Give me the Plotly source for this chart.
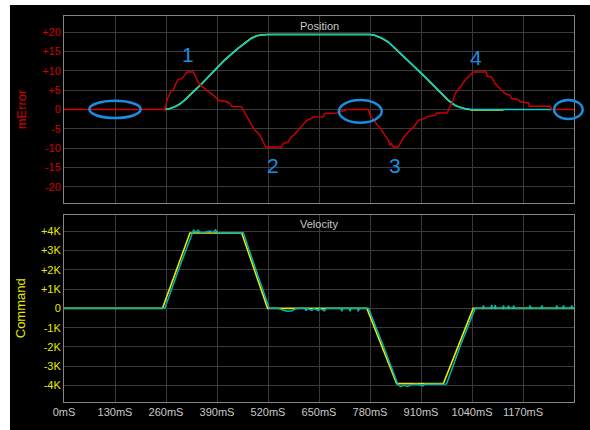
import plotly.graph_objects as go
from plotly.subplots import make_subplots

# ---------------- data ----------------
# time axis (ms)
x_tickvals = [0, 130, 260, 390, 520, 650, 780, 910, 1040, 1170, 1300]
x_ticktext = ["0mS", "130mS", "260mS", "390mS", "520mS", "650mS",
              "780mS", "910mS", "1040mS", "1170mS", ""]

# following error (counts)
err_t = [0, 257, 264, 268, 273, 279, 283, 291, 300, 308,
         313, 330, 334, 342, 351, 359, 368, 376, 385, 393,
         415, 423, 427, 453, 457, 466, 474, 483, 487, 500,
         508, 514, 555, 559, 572, 576, 585, 593, 602, 610,
         619, 631, 636, 661, 665, 695, 716, 721, 776, 780,
         793, 801, 810, 818, 827, 831, 835, 839, 852, 861,
         869, 878, 886, 895, 903, 920, 925, 946, 950, 976,
         984, 992, 997, 1005, 1014, 1022, 1031, 1039, 1043, 1077,
         1079, 1090, 1094, 1099, 1107, 1116, 1124, 1137, 1141, 1158,
         1162, 1184, 1186, 1239, 1243, 1300]
err_v = [0, 0, 2.85, 3.7, 4.8, 5.0, 6.3, 7.8, 8.0, 8.9,
         9.7, 9.7, 8.9, 7.1, 5.9, 5.4, 4.6, 4.1, 3.3, 2.4,
         2.0, 1.55, 0.85, 0.7, -0.2, -1.9, -3.6, -4.9, -5.4, -6.7,
         -8.4, -9.7, -9.7, -8.8, -8.4, -7.5, -6.7, -5.8, -4.5, -3.6,
         -2.8, -2.3, -1.9, -1.9, -1.0, -0.9, -0.2, 0, 0, -1.5,
         -3.2, -4.1, -5.4, -6.7, -8.0, -9.2, -8.8, -9.7, -9.7, -8.0,
         -6.7, -5.8, -4.9, -4.1, -2.8, -2.3, -1.9, -1.5, -0.9, -0.9,
         0.7, 2.4, 4.1, 5.0, 6.3, 7.6, 8.4, 9.3, 9.7, 9.7,
         8.6, 8.4, 7.6, 6.7, 5.9, 5.0, 4.1, 3.7, 2.85, 2.6,
         2.0, 1.7, 0.85, 0.85, 0, 0]

# actual position (scaled to the error axis)
pos_t = [257, 270, 283, 296, 308, 321, 334, 351, 368, 385,
         410, 444, 465, 478, 491, 504, 521, 780, 793, 810,
         827, 844, 861, 878, 895, 912, 929, 946, 963, 980,
         997, 1010, 1022, 1039, 1243]
pos_v = [0, 0.2, 0.7, 1.4, 2.4, 3.6, 5.0, 6.6, 8.4, 10.2,
         12.8, 15.8, 17.5, 18.4, 19.0, 19.3, 19.4, 19.4, 19.2, 18.5,
         17.5, 15.9, 14.1, 12.5, 10.9, 9.3, 7.6, 5.9, 4.1, 2.4,
         1.1, 0.55, 0.26, 0, 0]

# commanded position
cmd_pos_t = [257, 270, 283, 296, 308, 321, 334, 351, 368, 385,
             410, 444, 465, 478, 491, 504, 521, 780, 793, 810,
             827, 844, 861, 878, 895, 912, 929, 946, 963, 980,
             997, 1010, 1022, 1039, 1120]
cmd_pos_v = [0, 0.25, 0.75, 1.5, 2.5, 3.7, 5.1, 6.7, 8.5, 10.3,
             12.9, 15.9, 17.6, 18.5, 19.1, 19.35, 19.4, 19.4, 19.15, 18.4,
             17.4, 15.8, 14.0, 12.4, 10.8, 9.2, 7.5, 5.8, 4.0, 2.3,
             1.0, 0.5, 0.2, -0.1, -0.1]

# actual velocity (counts/s)
vel_t = [0, 257, 290, 325, 330, 336, 342, 348, 360, 372,
         380, 386, 392, 420, 440, 457, 490, 523, 545, 556,
         568, 580, 590, 600, 614, 617, 620, 632, 636, 648,
         652, 664, 668, 706, 708, 711, 727, 729, 732, 748,
         750, 753, 776, 815, 851, 858, 866, 876, 886, 900,
         915, 920, 950, 975, 1010, 1048, 1067, 1069, 1072, 1088,
         1090, 1093, 1097, 1099, 1102, 1118, 1120, 1123, 1131, 1133,
         1136, 1144, 1146, 1149, 1186, 1188, 1191, 1216, 1218, 1221,
         1254, 1256, 1259, 1271, 1273, 1276, 1292, 1294, 1297, 1300]
vel_v = [0, 0, 1900, 3880, 4050, 3950, 4050, 3930, 3940, 4000,
         3920, 4060, 3930, 3920, 3940, 3920, 1950, 0, 0, -60,
         -150, -140, -20, 0, 0, -120, 0, -100, 0, -110,
         0, -120, 0, 0, -150, 0, 0, -150, 0, 0,
         -150, 0, 0, -2000, -3950, -4060, -3990, -4040, -3950, -3930,
         -4020, -3930, -3920, -3920, -1950, 0, 0, 150, 0, 0,
         170, 0, 0, 160, 0, 0, 150, 0, 0, 140,
         0, 0, 140, 0, 0, 150, 0, 0, 150, 0,
         0, 150, 0, 0, 150, 0, 0, 150, 0, 0]

# commanded velocity
cmd_vel_t = [0, 251, 321, 453, 519, 772, 848, 967, 1043, 1300]
cmd_vel_v = [0, 0, 3900, 3900, 0, 0, -3900, -3900, 0, 0]

# callouts
marker_labels = ["1", "2", "3", "4"]
marker_t = [316, 533, 844, 1050]
marker_v = [14.2, -14.6, -14.4, 13.5]

err_ticks = [-20, -15, -10, -5, 0, 5, 10, 15, 20]
err_ticktext = ["-20", "-15", "-10", "-5", "0", "+5", "+10", "+15", "+20"]
vel_ticks = [-4000, -3000, -2000, -1000, 0, 1000, 2000, 3000, 4000]
vel_ticktext = ["-4K", "-3K", "-2K", "-1K", "0", "+1K", "+2K", "+3K", "+4K"]

# ---------------- styling ----------------
FONT = "Liberation Sans, Arial, sans-serif"
RED = "#d40000"
YELLOW = "#e8e800"
CYAN = "#00d0d0"
TEAL = "#00b4b4"
BLUE = "#1a8ee0"
GRID = "#3a3a3a"
FRAME = "#858585"
LABEL = "#c8c8c8"

fig = make_subplots(rows=2, cols=1, shared_xaxes=True)

# top panel: position + error
fig.add_trace(go.Scatter(x=cmd_pos_t, y=cmd_pos_v, mode="lines",
                         line=dict(color=YELLOW, width=1.5)), row=1, col=1)
fig.add_trace(go.Scatter(x=pos_t, y=pos_v, mode="lines",
                         line=dict(color=CYAN, width=1.6)), row=1, col=1)
fig.add_trace(go.Scatter(x=err_t, y=err_v, mode="lines",
                         line=dict(color=RED, width=1.4)), row=1, col=1)

# bottom panel: velocity
fig.add_trace(go.Scatter(x=cmd_vel_t, y=cmd_vel_v, mode="lines",
                         line=dict(color=YELLOW, width=1.6)), row=2, col=1)
fig.add_trace(go.Scatter(x=vel_t, y=vel_v, mode="lines",
                         line=dict(color=TEAL, width=1.5)), row=2, col=1)

axis_common = dict(showgrid=True, gridcolor=GRID, gridwidth=1,
                   showline=True, mirror=True, linecolor=FRAME, linewidth=1,
                   zeroline=False, ticks="")

fig.update_xaxes(range=[0, 1300], tickvals=x_tickvals, ticktext=x_ticktext,
                 tickfont=dict(family=FONT, size=11, color=LABEL), **axis_common)
fig.update_xaxes(showticklabels=False, row=1, col=1)

fig.update_yaxes(range=[-24.2, 24.2], tickvals=err_ticks, ticktext=err_ticktext,
                 tickfont=dict(family=FONT, size=11, color=RED),
                 domain=[0.5155, 1.0], row=1, col=1, **axis_common)
fig.update_yaxes(range=[-4850, 4850], tickvals=vel_ticks, ticktext=vel_ticktext,
                 tickfont=dict(family=FONT, size=11, color=YELLOW),
                 domain=[0.0, 0.4852], row=2, col=1, **axis_common)

annotations = [
    dict(text="Position", xref="x domain", yref="y domain", x=0.5, y=0.948,
         xanchor="center", yanchor="middle", showarrow=False,
         font=dict(family=FONT, size=11, color=LABEL)),
    dict(text="Velocity", xref="x2 domain", yref="y2 domain", x=0.5, y=0.9504,
         xanchor="center", yanchor="middle", showarrow=False,
         font=dict(family=FONT, size=11, color=LABEL)),
    dict(text="mError", xref="paper", yref="paper", x=-0.0829, y=0.7575,
         xanchor="center", yanchor="middle", textangle=-90, showarrow=False,
         font=dict(family=FONT, size=13, color=RED)),
    dict(text="Command", xref="paper", yref="paper", x=-0.0858, y=0.2435,
         xanchor="center", yanchor="middle", textangle=-90, showarrow=False,
         font=dict(family=FONT, size=13, color=YELLOW)),
]
for lab, t, v in zip(marker_labels, marker_t, marker_v):
    annotations.append(dict(text=lab, x=t, y=v, xref="x", yref="y",
                            xanchor="center", yanchor="middle", showarrow=False,
                            font=dict(family=FONT, size=21, color=BLUE)))

shapes = [
    # dark scope background
    dict(type="rect", xref="paper", yref="paper",
         x0=-0.1059, x1=1.04, y0=-0.08, y1=1.0285,
         fillcolor="black", line=dict(width=0), layer="below"),
]
ellipses = [(0.0496, 0.1504, 0.4545, 0.547),
            (0.539, 0.623, 0.4294, 0.5508),
            (0.961, 1.017, 0.449, 0.551)]
for x0, x1, y0, y1 in ellipses:
    shapes.append(dict(type="circle", xref="x domain", yref="y domain",
                       x0=x0, x1=x1, y0=y0, y1=y1,
                       line=dict(color=BLUE, width=2.5)))

fig.update_layout(
    width=590, height=430,
    margin=dict(l=64, r=16, t=16, b=28),
    paper_bgcolor="white", plot_bgcolor="black",
    showlegend=False,
    annotations=annotations,
    shapes=shapes,
)

fig.write_html("out.html")
